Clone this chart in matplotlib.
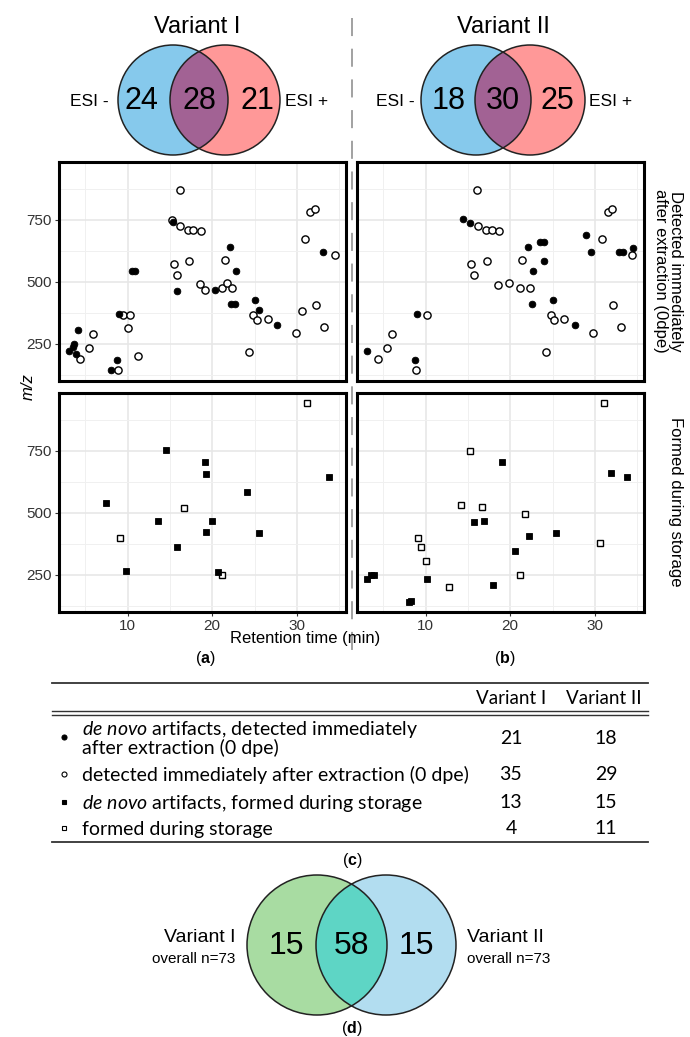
import matplotlib
matplotlib.use('Agg')
import matplotlib.pyplot as plt
from matplotlib.patches import Circle

W, H = 690, 1037

# ---- data ----
venn_I = [24, 28, 21]
venn_II = [18, 30, 25]
venn_all = [15, 58, 15]

# (a) Variant I, detected at 0 dpe
a_dn_rt = [15.4, 22.05, 33.1, 22.8, 10.5, 10.9, 15.8, 20.3, 22.2, 22.7, 25.0, 25.5, 27.7,
           9.0, 4.1, 3.7, 3.5, 3.1, 3.9, 8.7, 8.0]
a_dn_mz = [739, 638, 620, 541, 541, 541, 462, 466, 409, 409, 424, 384, 324,
           368, 303, 250, 237, 221, 207, 182, 145]
a_op_rt = [16.2, 15.2, 16.2, 17.1, 17.7, 18.7, 34.5, 30.9, 31.6, 32.1, 15.5, 15.8, 17.3,
           21.5, 18.6, 19.1, 21.2, 21.7, 22.3, 24.8, 25.3, 26.6, 30.6, 32.2, 33.2, 9.5,
           10.3, 10.0, 5.9, 5.5, 4.4, 8.9, 11.2, 24.3, 29.9]
a_op_mz = [868, 750, 722, 707, 708, 704, 607, 670, 779, 793, 571, 528, 582,
           588, 491, 466, 472, 496, 472, 366, 343, 350, 382, 404, 318, 364,
           364, 313, 289, 234, 188, 145, 199, 214, 292]

# (b) Variant II, detected at 0 dpe
b_dn_rt = [14.4, 15.3, 28.9, 22.1, 23.5, 24.0, 29.5, 32.9, 33.3, 34.5, 24.0, 22.7, 22.6,
           25.0, 27.6, 9.0, 3.1, 8.7]
b_dn_mz = [753, 737, 687, 639, 660, 660, 621, 620, 621, 637, 582, 541, 409,
           424, 325, 368, 220, 182]
b_op_rt = [16.1, 16.2, 17.1, 17.8, 18.7, 30.8, 31.5, 32.0, 34.4, 15.4, 15.7, 17.2, 21.4,
           18.6, 19.8, 21.2, 22.3, 24.8, 25.2, 26.4, 32.1, 33.1, 10.2, 6.0, 5.5, 4.4,
           8.9, 24.2, 29.8]
b_op_mz = [868, 722, 707, 708, 704, 671, 779, 793, 607, 571, 528, 582, 588,
           488, 496, 474, 474, 366, 343, 350, 405, 318, 364, 289, 234, 188,
           145, 214, 292]

# formed during storage
a_sdn_rt = [14.5, 19.1, 19.3, 33.8, 24.1, 7.4, 13.6, 19.95, 19.3, 25.5, 15.8, 9.8, 20.7]
a_sdn_mz = [753, 703, 657, 642, 583, 540, 464, 464, 423, 419, 361, 265, 262]
a_sop_rt = [31.2, 16.7, 9.1, 21.1]
a_sop_mz = [941, 520, 396, 250]
b_sdn_rt = [19.05, 31.9, 33.8, 15.7, 16.9, 22.2, 25.4, 20.6, 3.1, 3.5, 3.9, 8.0, 8.3, 10.2, 18.0]
b_sdn_mz = [703, 661, 642, 460, 467, 406, 419, 343, 232, 249, 249, 138, 142, 233, 208]
b_sop_rt = [31.1, 15.3, 14.2, 16.7, 21.7, 9.1, 9.5, 30.6, 10.05, 12.8, 21.1]
b_sop_mz = [941, 749, 530, 522, 493, 396, 361, 376, 304, 200, 250]

row_labels = [r"$\mathit{de\ novo}$ artifacts, detected immediately" + "\nafter extraction (0 dpe)",
              "detected immediately after extraction (0 dpe)",
              r"$\mathit{de\ novo}$ artifacts, formed during storage",
              "formed during storage"]
row_markers = ['o', 'o', 's', 's']
row_filled = [True, False, True, False]
count_I = [21, 35, 13, 4]
count_II = [18, 29, 15, 11]

plt.rcParams['font.family'] = ['Liberation Sans', 'DejaVu Sans']
plt.rcParams['mathtext.fontset'] = 'custom'
plt.rcParams['mathtext.it'] = 'Lato:italic'
plt.rcParams['mathtext.rm'] = 'Lato'
plt.rcParams['mathtext.bf'] = 'Liberation Sans:bold'

fig = plt.figure(figsize=(W / 100, H / 100), dpi=100)

def px_axes(x0, y0, x1, y1):
    return fig.add_axes([x0 / W, 1 - y1 / H, (x1 - x0) / W, (y1 - y0) / H])

ov = fig.add_axes([0, 0, 1, 1], zorder=5)
ov.set_xlim(0, W)
ov.set_ylim(H, 0)
ov.axis('off')
ov.patch.set_alpha(0)

def venn(cx1, cx2, cy, r, c1, c2, cmid, nums, fs, spread):
    ov.add_patch(Circle((cx1, cy), r, fc=c1, ec='none'))
    ov.add_patch(Circle((cx2, cy), r, fc=c2, ec='none'))
    mid = Circle((cx2, cy), r, fc=cmid, ec='none')
    ov.add_patch(mid)
    mid.set_clip_path(Circle((cx1, cy), r, transform=ov.transData))
    for cx in (cx1, cx2):
        ov.add_patch(Circle((cx, cy), r, fc='none', ec='#222222', lw=1.1))
    m = (cx1 + cx2) / 2
    for x, n in zip([m - spread, m, m + spread], nums):
        ov.text(x, cy + 1, str(n), ha='center', va='center', fontsize=fs)

# top venns
venn(173, 225, 100, 55, '#86C9EC', '#FF9898', '#A26294', venn_I, 22, 58)
venn(476, 530, 100, 55, '#86C9EC', '#FF9898', '#A26294', venn_II, 22, 54)
for x, t in [(197, 'Variant I'), (503, 'Variant II')]:
    ov.text(x, 27, t, ha='center', va='center', fontsize=17)
for x, t in [(89, 'ESI -'), (307, 'ESI +'), (395, 'ESI -'), (611, 'ESI +')]:
    ov.text(x, 101, t, ha='center', va='center', fontsize=12.5)

# dashed separator
ov.plot([352, 352], [18, 652], color='#9A9A9A', lw=1.3, dashes=(10, 7))

# scatter panels
xlim = (1.9, 35.8)
ylim = (99, 982)

def style(ax, left, bottom):
    ax.set_xlim(*xlim)
    ax.set_ylim(*ylim)
    ax.set_xticks([10, 20, 30])
    ax.set_xticks([5, 15, 25, 35], minor=True)
    ax.set_yticks([250, 500, 750])
    ax.set_yticks([125, 375, 625, 875], minor=True)
    ax.grid(which='major', color='#E6E6E6', lw=1.1)
    ax.grid(which='minor', color='#F0F0F0', lw=0.7)
    ax.set_axisbelow(True)
    for s in ax.spines.values():
        s.set_linewidth(2.2)
        s.set_color('black')
    ax.tick_params(which='minor', length=0)
    ax.tick_params(which='major', length=3, width=0.8, color='#333333',
                   labelsize=11, labelcolor='#333333', pad=2)
    ax.tick_params(axis='x', labelbottom=bottom, length=3 if bottom else 0)
    ax.tick_params(axis='y', labelleft=left, length=3 if left else 0)

panels = [
    (59, 162, 346, 381, a_dn_rt, a_dn_mz, a_op_rt, a_op_mz, 'o', True, False),
    (357, 162, 644, 381, b_dn_rt, b_dn_mz, b_op_rt, b_op_mz, 'o', False, False),
    (59, 393, 346, 612, a_sdn_rt, a_sdn_mz, a_sop_rt, a_sop_mz, 's', True, True),
    (357, 393, 644, 612, b_sdn_rt, b_sdn_mz, b_sop_rt, b_sop_mz, 's', False, True),
]
for x0, y0, x1, y1, fx, fy, ox, oy, mk, left, bottom in panels:
    ax = px_axes(x0, y0, x1, y1)
    style(ax, left, bottom)
    ms = 5.2 if mk == 'o' else 5.0
    ax.plot(ox, oy, mk, ms=ms, mfc='white', mec='black', mew=1.0, ls='none')
    ax.plot(fx, fy, mk, ms=ms - 0.4, mfc='black', mec='black', mew=0.6, ls='none')

ov.text(28, 387, 'm/z', rotation=90, ha='center', va='center', fontsize=12, style='italic')
ov.text(305, 639, 'Retention time (min)', ha='center', va='center', fontsize=12)
ov.text(668, 271, 'Detected immediately\nafter extraction (0dpe)', rotation=270,
        ha='center', va='center', fontsize=12, linespacing=1.05)
ov.text(676, 502, 'Formed during storage', rotation=270, ha='center', va='center', fontsize=12)
for x, y, t in [(205, 658, 'a'), (505, 658, 'b'), (352, 860, 'c'), (352, 1028, 'd')]:
    ov.text(x, y, r'($\mathbf{%s}$)' % t, ha='center', va='center', fontsize=11.5)

# table (c)
tfont = ['Lato', 'DejaVu Sans']
ov.plot([52, 648], [683, 683], color='#333333', lw=1.3)
ov.plot([52, 648], [711, 711], color='#333333', lw=1.0)
ov.plot([52, 648], [714.5, 714.5], color='#333333', lw=1.0)
ov.plot([52, 648], [842, 842], color='#333333', lw=1.3)
ov.text(511, 698, 'Variant I', ha='center', va='center', fontsize=13.5, family=tfont)
ov.text(604, 698, 'Variant II', ha='center', va='center', fontsize=13.5, family=tfont)
row_y = [738, 775, 803, 829]
for y, lab, mk, filled, c1, c2 in zip(row_y, row_labels, row_markers, row_filled, count_I, count_II):
    ov.plot([64], [y - 1], mk, ms=3.6 if mk == 'o' else 3.4, mfc='black' if filled else 'white',
            mec='black', mew=0.8)
    ov.text(82, y, lab, ha='left', va='center', fontsize=14, family=tfont, linespacing=0.98)
    ov.text(511, y, str(c1), ha='center', va='center', fontsize=14, family=tfont)
    ov.text(606, y, str(c2), ha='center', va='center', fontsize=14, family=tfont)

# bottom venn (d)
venn(317, 386, 945, 70, '#A8DCA2', '#B2DDF0', '#5ED5C5', venn_all, 23, 65)
ov.text(235, 937, 'Variant I', ha='right', va='center', fontsize=14)
ov.text(235, 959, 'overall n=73', ha='right', va='center', fontsize=11)
ov.text(467, 937, 'Variant II', ha='left', va='center', fontsize=14)
ov.text(467, 959, 'overall n=73', ha='left', va='center', fontsize=11)

fig.savefig('out.png', dpi=100)
